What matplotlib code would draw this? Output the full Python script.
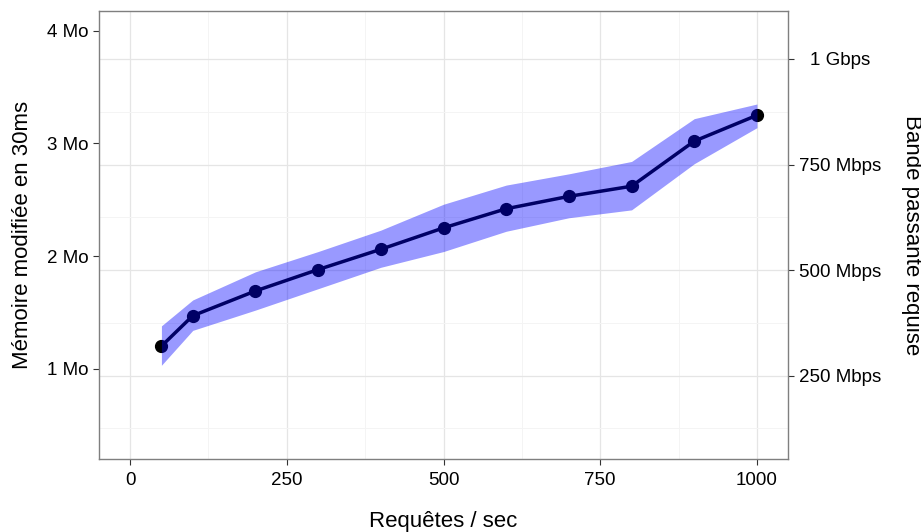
import numpy as np
import matplotlib
matplotlib.use('Agg')
import matplotlib.pyplot as plt
from matplotlib.ticker import FixedLocator

plt.rcParams['font.family'] = ['Liberation Sans', 'DejaVu Sans']

# requests per second and memory modified in 30 ms (Mo)
requests = [50, 100, 200, 300, 400, 500, 600, 700, 800, 900, 1000]
mem_mean = [1.20, 1.47, 1.69, 1.88, 2.06, 2.25, 2.42, 2.53, 2.62, 3.02, 3.25]
mem_low = [1.03, 1.34, 1.52, 1.71, 1.90, 2.04, 2.22, 2.34, 2.41, 2.82, 3.14]
mem_high = [1.38, 1.61, 1.86, 2.04, 2.23, 2.46, 2.63, 2.73, 2.84, 3.22, 3.35]

x_ticks = [0, 250, 500, 750, 1000]
mo_ticks = [1, 2, 3, 4]
mo_labels = ['1 Mo', '2 Mo', '3 Mo', '4 Mo']
bw_ticks = [250, 500, 750, 1000]
bw_labels = ['250 Mbps', '500 Mbps', '750 Mbps', '1 Gbps']

# 1 Mo every 30 ms -> Mbps
MO_TO_MBPS = 8 / 0.03

def to_mbps(v):
    return np.asarray(v) * MO_TO_MBPS

def to_mo(v):
    return np.asarray(v) / MO_TO_MBPS

fig = plt.figure(figsize=(9.21, 5.32), dpi=100, facecolor='white')
ax = fig.add_axes([0.1072, 0.1378, 0.7487, 0.8421])

ax.plot(requests, to_mbps(mem_mean), color='black', lw=2.5, zorder=3)
ax.plot(requests, to_mbps(mem_mean), 'o', color='black', ms=8.5, zorder=3)
ax.fill_between(requests, to_mbps(mem_low), to_mbps(mem_high),
                color='blue', alpha=0.4, lw=0, zorder=4)

ax.set_xlim(-50, 1050)
ax.set_ylim(53.5, 1114.3)

# grid follows the bandwidth scale
ax.set_xticks(x_ticks)
ax.xaxis.set_minor_locator(FixedLocator([125, 375, 625, 875]))
ax.set_yticks(bw_ticks)
ax.yaxis.set_minor_locator(FixedLocator([125, 375, 625, 875]))
ax.grid(which='major', color='#e5e5e5', lw=0.9, zorder=0)
ax.grid(which='minor', color='#f4f4f4', lw=0.7, zorder=0)
ax.set_axisbelow(True)

ax.yaxis.tick_right()
ax.set_yticklabels(bw_labels)
for lab in ax.get_yticklabels():
    lab.set_ha('center')
ax.tick_params(axis='y', which='major', right=True, left=False, length=4.3,
               width=0.8, color='#333333', labelsize=13.5, pad=33)
ax.tick_params(axis='x', which='major', length=4.3, width=0.8,
               color='#333333', labelsize=13.5, pad=5)
ax.tick_params(which='minor', length=0)

for sp in ax.spines.values():
    sp.set_color('#7f7f7f')
    sp.set_linewidth(1.0)

ax.set_xlabel('Requêtes / sec', fontsize=16, labelpad=16)
fig.text(911 / 921, 1 - 235 / 532, 'Bande passante requise', fontsize=16,
         rotation=270, ha='center', va='center')

sec = ax.secondary_yaxis('left', functions=(to_mo, to_mbps))
sec.set_yticks(mo_ticks)
sec.set_yticklabels(mo_labels)
sec.tick_params(length=4.3, width=0.8, color='#333333', labelsize=13.5, pad=3)
sec.spines['left'].set_visible(False)
sec.set_ylabel('Mémoire modifiée en 30ms', fontsize=16, labelpad=10)

fig.savefig('out.png', dpi=100, facecolor='white')
